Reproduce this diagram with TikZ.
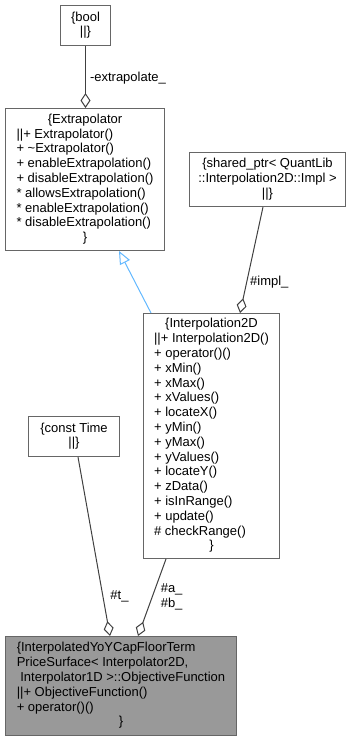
\documentclass[tikz,border=0pt]{standalone}
\usepackage{fontspec}
\setmainfont{Liberation Sans}
\usetikzlibrary{arrows.meta}

\definecolor{edgegray}{HTML}{404040}
\definecolor{boxgray}{HTML}{666666}
\definecolor{inheritblue}{HTML}{63B8FF}
\definecolor{mainfill}{HTML}{999999}

% record contents: lines flush left, \ctr for a centred line
\newcommand{\recleft}[1]{\begin{tabular}{@{}l@{}}#1\end{tabular}}
\newcommand{\reccenter}[1]{\begin{tabular}{@{}c@{}}#1\end{tabular}}
\newcommand{\ctr}[1]{\multicolumn{1}{@{}c@{}}{#1}}

\tikzset{
	classbox/.style={draw=boxgray, fill=white, line width=1pt, anchor=north west, inner sep=0pt},
	agg/.style={draw=edgegray, line width=1pt, -{Diamond[open, fill=white, length=15pt, width=10pt]}},
	inherit/.style={draw=inheritblue, line width=1pt, -{Triangle[open, fill=white, length=13pt, width=11pt]}},
	edgelabel/.style={anchor=west, inner sep=0pt, align=left}
}

\begin{document}
\begin{tikzpicture}[x=1pt, y=-1pt, font=\fontsize{13}{14.8}\selectfont]
	\useasboundingbox (0,0) rectangle (354,740);

	% Các lớp
	\node[classbox, minimum width=50pt, minimum height=40pt] (bool) at (60,5)
		{\reccenter{\{bool\\\textbar\textbar\}}};

	\node[classbox, minimum width=159pt, minimum height=142pt] (extrap) at (5,108)
		{\recleft{\ctr{\{Extrapolator}\\
		\textbar\textbar+ Extrapolator()\\
		+ \textasciitilde Extrapolator()\\
		+ enableExtrapolation()\\
		+ disableExtrapolation()\\
		{*} allowsExtrapolation()\\
		{*} enableExtrapolation()\\
		{*} disableExtrapolation()\\
		\ctr{\}}}};

	\node[classbox, minimum width=156pt, minimum height=54pt] (impl) at (189,152)
		{\reccenter{\{shared\_ptr< QuantLib\\::Interpolation2D::Impl >\\\textbar\textbar\}}};

	\node[classbox, minimum width=136pt, minimum height=245pt] (interp) at (143,313)
		{\recleft{\ctr{\{Interpolation2D}\\
		\textbar\textbar+ Interpolation2D()\\
		+ operator()()\\
		+ xMin()\\
		+ xMax()\\
		+ xValues()\\
		+ locateX()\\
		+ yMin()\\
		+ yMax()\\
		+ yValues()\\
		+ locateY()\\
		+ zData()\\
		+ isInRange()\\
		+ update()\\
		\# checkRange()\\
		\ctr{\}}}};

	\node[classbox, minimum width=91pt, minimum height=40pt] (time) at (28,416)
		{\reccenter{\{const Time\\\textbar\textbar\}}};

	\node[classbox, fill=mainfill, minimum width=231pt, minimum height=99pt] (objfn) at (5,636)
		{\recleft{\{InterpolatedYoYCapFloorTerm\\
		PriceSurface< Interpolator2D,\\
		\ Interpolator1D >::ObjectiveFunction\\
		\textbar\textbar+ ObjectiveFunction()\\
		+ operator()()\\
		\ctr{\}}}};

	% Quan hệ
	\draw[agg] (bool.south) -- (bool.south |- extrap.north)
		node[edgelabel, pos=0.52, xshift=4pt] {-extrapolate\_};
	\draw[inherit] ([xshift=8pt]interp.north west) -- ([xshift=114pt]extrap.south west);
	\draw[agg] ([xshift=74pt]impl.south west) -- ([xshift=97pt]interp.north west)
		node[edgelabel, pos=0.71, xshift=3pt] {\#impl\_};
	\draw[agg] ([xshift=50pt]time.south west) -- ([xshift=105pt]objfn.north west)
		node[edgelabel, pos=0.78, xshift=7pt] {\#t\_};
	\draw[agg] ([xshift=23pt]interp.south west) -- ([xshift=133pt]objfn.north west)
		node[edgelabel, pos=0.49, xshift=8pt] {\#a\_\\\#b\_};
\end{tikzpicture}
\end{document}
